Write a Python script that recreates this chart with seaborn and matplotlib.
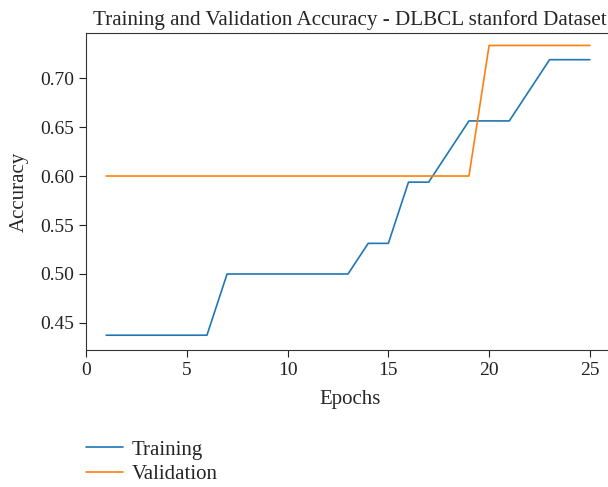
import matplotlib
matplotlib.use("Agg")
import matplotlib.pyplot as plt
import seaborn as sns
import pandas as pd

epochs = list(range(1, 26))
training = [0.4375]*6 + [0.5]*7 + [0.53125]*2 + [0.59375]*2 + [0.625] + [0.65625]*3 + [0.6875] + [0.71875]*3
validation = [0.6]*19 + [0.7333]*6

df = pd.DataFrame({"Epoch": epochs * 2,
                   "Accuracy": training + validation,
                   "Set": ["Training"]*25 + ["Validation"]*25})

sns.set_style("ticks")
plt.rcParams['font.family'] = ['Liberation Serif', 'DejaVu Serif']

fig = plt.figure(figsize=(6.08, 4.87), dpi=100)
ax = fig.add_axes([86/608, 1-350/487, 1-86/608+0.01, (350-33)/487])
sns.lineplot(data=df, x="Epoch", y="Accuracy", hue="Set",
             palette=["#1f77b4", "#ff7f0e"], linewidth=1.2, ax=ax)
ax.set_xlim(0, 26.2)
ax.set_ylim(0.4224, 0.746)
ax.set_xticks([0, 5, 10, 15, 20, 25])
ax.set_yticks([0.45, 0.50, 0.55, 0.60, 0.65, 0.70])
ax.set_yticklabels(["0.45", "0.50", "0.55", "0.60", "0.65", "0.70"])
ax.tick_params(labelsize=14, direction="out", length=5, width=0.8, colors="#222222")
ax.set_xlabel("Epochs", fontsize=15, labelpad=8)
ax.set_ylabel("Accuracy", fontsize=15, labelpad=8)
ax.set_title("Training and Validation Accuracy - DLBCL stanford Dataset", fontsize=15.2, pad=6)
for s in ax.spines.values():
    s.set_color("#333333")
    s.set_linewidth(0.8)
ax.spines["right"].set_visible(False)

handles, labels = ax.get_legend_handles_labels()
ax.legend(handles, labels, loc="upper left", bbox_to_anchor=(-0.036, -0.225),
          frameon=False, fontsize=15, handlelength=1.8, handletextpad=0.4,
          labelspacing=0.25)

fig.savefig("out.png", dpi=100)
